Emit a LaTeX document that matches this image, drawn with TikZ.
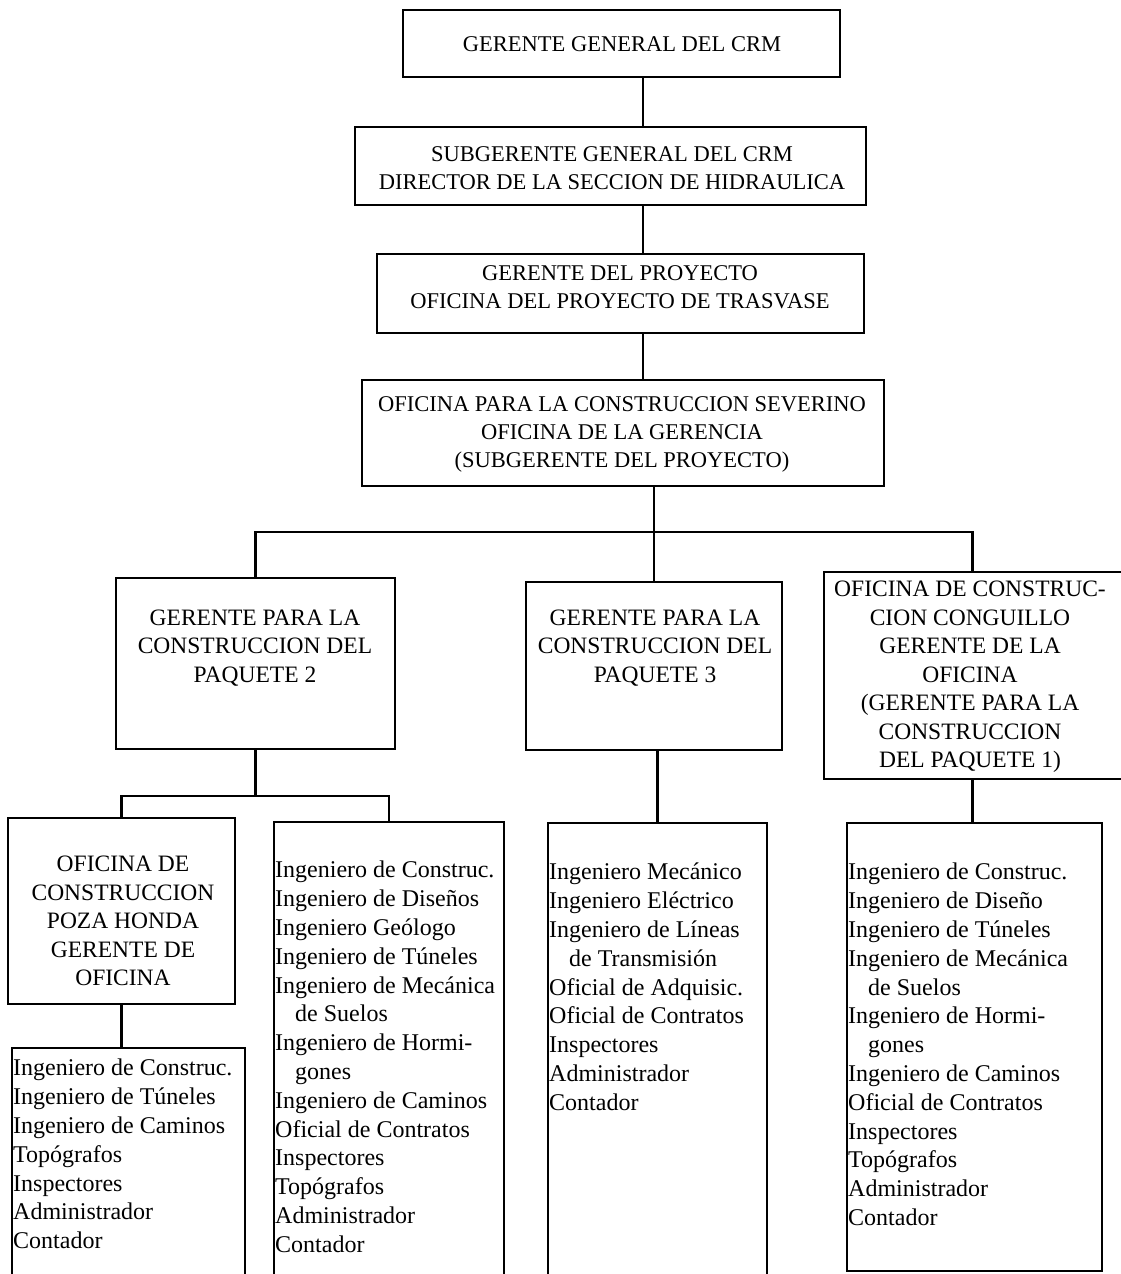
\documentclass[tikz,border=0pt]{standalone}
\usepackage{fontspec}
\setmainfont{Liberation Serif}
\tikzset{
  box/.style={draw, line width=2.4pt, rectangle, inner sep=0pt},
  openbox/.style={rectangle, inner sep=0pt},
  sides/.style={line width=2.4pt, line join=miter},
  hd/.style={font=\fontsize{23.5}{28.5}\selectfont, align=center, inner sep=0pt},
  hdtop/.style={font=\fontsize{22.5}{28}\selectfont, align=center, inner sep=0pt},
  lst/.style={font=\fontsize{24}{28.8}\selectfont, align=left, inner sep=0pt, anchor=north west},
  conn/.style={line width=2.4pt},
}
\newcommand{\ind}{\hspace*{20pt}}
\begin{document}
\begin{tikzpicture}[x=1pt,y=-1pt]
\useasboundingbox[fill=white] (0,0) rectangle (1121,1274);

% boxes
\node[box, minimum width=437pt, minimum height=67pt] (A) at (621.5,43.5) {};
\node[box, minimum width=511pt, minimum height=78pt] (B) at (610.5,166) {};
\node[box, minimum width=487pt, minimum height=79pt] (C) at (620.5,293.5) {};
\node[box, minimum width=522pt, minimum height=106pt] (D) at (623,433) {};
\node[box, minimum width=279pt, minimum height=171pt] (E) at (255.5,663.5) {};
\node[box, minimum width=256pt, minimum height=168pt] (F) at (654,666) {};
\node[openbox, minimum width=297pt, minimum height=207pt] (G) at (972.5,675.5) {};
\node[box, minimum width=227pt, minimum height=186pt] (H) at (121.5,911) {};
\node[openbox, minimum width=230pt, minimum height=452pt] (I) at (389,1048) {};
\node[openbox, minimum width=233pt, minimum height=226pt] (J) at (128.5,1161) {};
\node[openbox, minimum width=219pt, minimum height=451pt] (K) at (657.5,1048.5) {};
\node[box, minimum width=255pt, minimum height=448pt] (L) at (974.5,1047) {};

% open-sided frames
\draw[sides] (G.north east) -- (G.north west) -- (G.south west) -- (G.south east);
\draw[sides] (I.south west) -- (I.north west) -- (I.north east) -- (I.south east);
\draw[sides] (J.south west) -- (J.north west) -- (J.north east) -- (J.south east);
\draw[sides] (K.south west) -- (K.north west) -- (K.north east) -- (K.south east);

% header texts
\node[hdtop] (At) at (622,44) {GERENTE GENERAL DEL CRM};
\node[hdtop] (Bt) at (612,168) {SUBGERENTE GENERAL DEL CRM\\DIRECTOR DE LA SECCION DE HIDRAULICA};
\node[hdtop] (Ct) at (620,287) {GERENTE DEL PROYECTO\\OFICINA DEL PROYECTO DE TRASVASE};
\node[hdtop] (Dt) at (622,434) {OFICINA PARA LA CONSTRUCCION SEVERINO\\OFICINA DE LA GERENCIA\\(SUBGERENTE DEL PROYECTO)};
\node[hd] (Et) at (255,648) {GERENTE PARA LA\\CONSTRUCCION DEL\\PAQUETE 2};
\node[hd] (Ft) at (655,648) {GERENTE PARA LA\\CONSTRUCCION DEL\\PAQUETE 3};
\node[hd] (Gt) at (970,677) {OFICINA DE CONSTRUC-\\CION CONGUILLO\\GERENTE DE LA\\OFICINA\\(GERENTE PARA LA\\CONSTRUCCION\\DEL PAQUETE 1)};
\node[hd] (Ht) at (123,921) {OFICINA DE\\CONSTRUCCION\\POZA HONDA\\GERENTE DE\\OFICINA};

% list texts
\node[lst] (It) at (275,861) {Ingeniero de Construc.\\Ingeniero de Diseños\\Ingeniero Geólogo\\Ingeniero de Túneles\\Ingeniero de Mecánica\\\ind de Suelos\\Ingeniero de Hormi-\\\ind gones\\Ingeniero de Caminos\\Oficial de Contratos\\Inspectores\\Topógrafos\\Administrador\\Contador};
\node[lst] (Jt) at (13,1059) {Ingeniero de Construc.\\Ingeniero de Túneles\\Ingeniero de Caminos\\Topógrafos\\Inspectores\\Administrador\\Contador};
\node[lst] (Kt) at (549,863) {Ingeniero Mecánico\\Ingeniero Eléctrico\\Ingeniero de Líneas\\\ind de Transmisión\\Oficial de Adquisic.\\Oficial de Contratos\\Inspectores\\Administrador\\Contador};
\node[lst] (Lt) at (848,863) {Ingeniero de Construc.\\Ingeniero de Diseño\\Ingeniero de Túneles\\Ingeniero de Mecánica\\\ind de Suelos\\Ingeniero de Hormi-\\\ind gones\\Ingeniero de Caminos\\Oficial de Contratos\\Inspectores\\Topógrafos\\Administrador\\Contador};

% connectors
\coordinate (s1) at (643,0);
\coordinate (bar1) at (0,532);
\coordinate (bar2) at (0,796);
\draw[conn] (A.south -| s1) -- (B.north -| s1);
\draw[conn] (B.south -| s1) -- (C.north -| s1);
\draw[conn] (C.south -| s1) -- (D.north -| s1);
\draw[conn] (D.south -| F.north) -- (F.north);
\draw[conn] (E.north) -- (E.north |- bar1) -- (G.north |- bar1) -- (G.north);
\draw[conn] (E.south) -- (E.south |- bar2);
\draw[conn] (H.north) -- (H.north |- bar2) -- (I.north |- bar2) -- (I.north);
\draw[conn] (H.south) -- (H.south |- J.north);
\draw[conn] (F.south -| K.north) -- (K.north);
\draw[conn] (G.south) -- (G.south |- L.north);
\end{tikzpicture}
\end{document}
